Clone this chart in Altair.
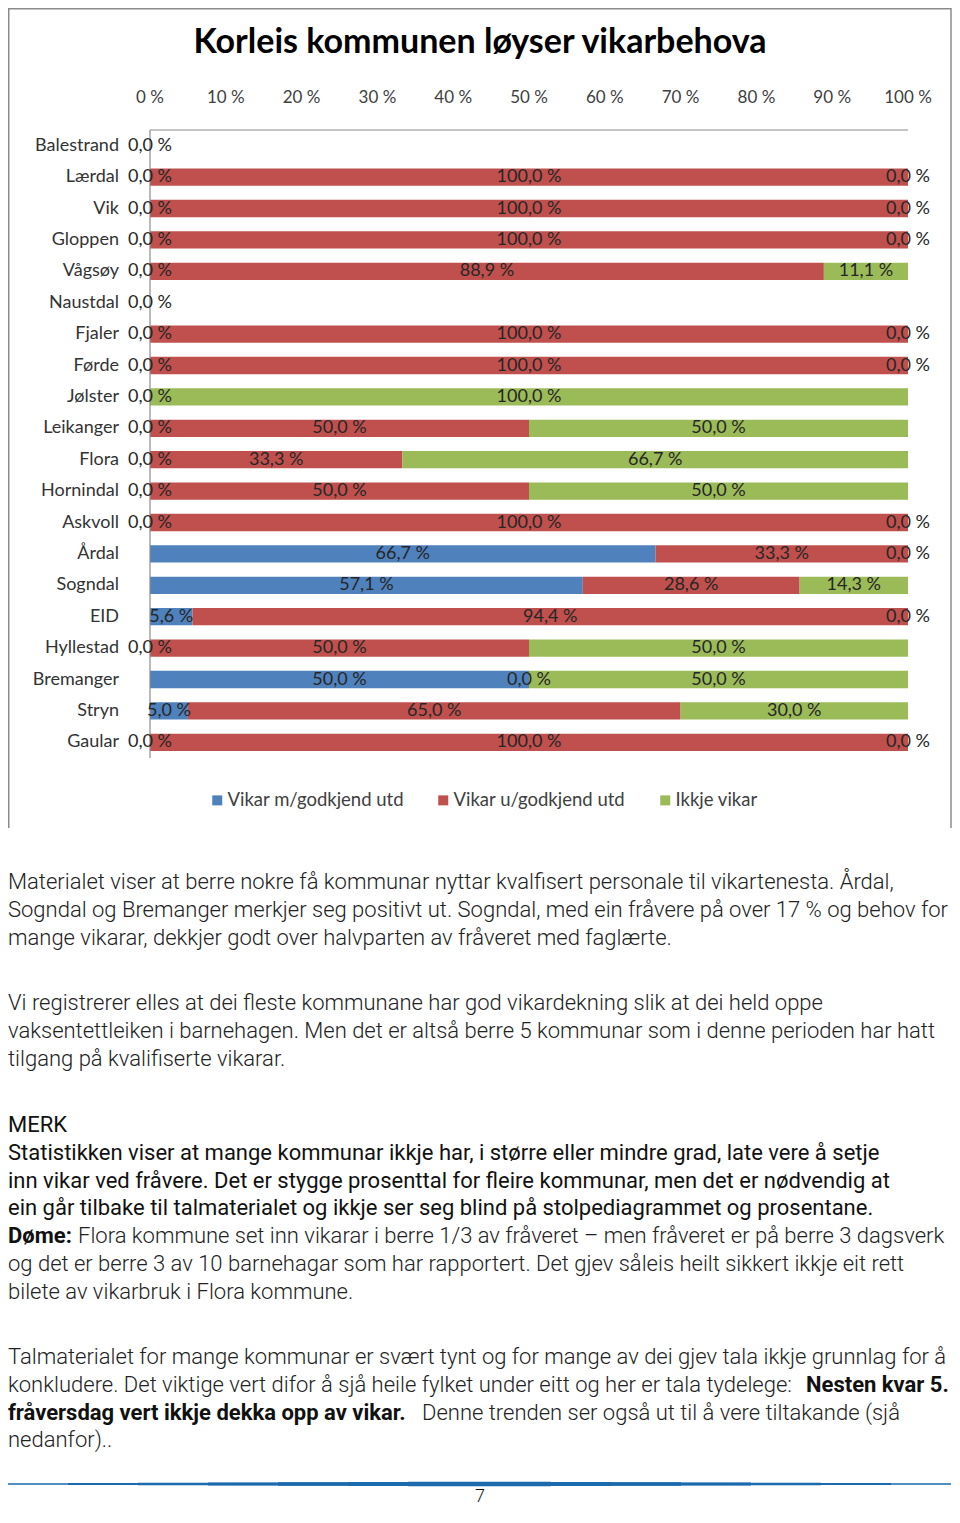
import altair as alt
import pandas as pd

# ---------------- data ----------------
kommunar = ["Balestrand", "Lærdal", "Vik", "Gloppen", "Vågsøy", "Naustdal", "Fjaler",
            "Førde", "Jølster", "Leikanger", "Flora", "Hornindal", "Askvoll", "Årdal",
            "Sogndal", "EID", "Hyllestad", "Bremanger", "Stryn", "Gaular"]
serier = ["Vikar m/godkjend utd", "Vikar u/godkjend utd", "Ikkje vikar"]
med_utd = [0.0, 0.0, 0.0, 0.0, 0.0, 0.0, 0.0, 0.0, 0.0, 0.0, 0.0, 0.0, 0.0,
           66.7, 57.1, 5.6, 0.0, 50.0, 5.0, 0.0]
utan_utd = [None, 100.0, 100.0, 100.0, 88.9, None, 100.0, 100.0, None, 50.0, 33.3,
            50.0, 100.0, 33.3, 28.6, 94.4, 50.0, 0.0, 65.0, 100.0]
ikkje_vikar = [None, 0.0, 0.0, 0.0, 11.1, None, 0.0, 0.0, 100.0, 50.0, 66.7,
               50.0, 0.0, 0.0, 14.3, 0.0, 50.0, 50.0, 30.0, 0.0]
tick_verdiar = [0, 10, 20, 30, 40, 50, 60, 70, 80, 90, 100]

tittel = "Korleis kommunen løyser vikarbehova"

avsnitt_1 = [
    "Materialet viser at berre nokre få kommunar nyttar kvalfisert personale til vikartenesta. Årdal,",
    "Sogndal og Bremanger merkjer seg positivt ut. Sogndal, med ein fråvere på over 17 %  og behov for",
    "mange vikarar, dekkjer godt over halvparten av fråveret med faglærte.",
]
avsnitt_2 = [
    "Vi registrerer elles at dei fleste kommunane har god vikardekning slik at dei held oppe",
    "vaksentettleiken i barnehagen. Men det er altså berre 5 kommunar som i denne perioden har hatt",
    "tilgang på kvalifiserte vikarar.",
]
merk_tekst = [
    "MERK",
    "Statistikken viser at mange kommunar ikkje har, i større eller mindre grad, late vere å setje",
    "inn vikar ved fråvere. Det er stygge prosenttal for fleire kommunar, men det er nødvendig at",
    "ein går tilbake til talmaterialet og ikkje ser seg blind på stolpediagrammet og prosentane.",
]
dome_fet = "Døme:"
dome_tekst = [
    "Flora kommune set inn vikarar i berre 1/3 av fråveret – men fråveret er på berre 3 dagsverk",
]
dome_vidare = [
    "og det er berre 3 av 10 barnehagar som har rapportert. Det gjev såleis heilt sikkert ikkje eit rett",
    "bilete av vikarbruk i Flora kommune.",
]
avsnitt_4 = [
    "Talmaterialet for mange kommunar er svært tynt og for mange av dei gjev tala ikkje grunnlag for å",
    "konkludere. Det viktige vert difor å sjå heile fylket under eitt og her er tala tydelege:",
]
avsnitt_4_fet_a = "Nesten kvar 5."
avsnitt_4_fet_b = "fråversdag vert ikkje dekka opp av vikar."
avsnitt_4_rest = [
    "Denne trenden ser også ut til å vere tiltakande (sjå",
]
avsnitt_4_slutt = ["nedanfor).."]
sidetal = "7"

farger = ["#4F81BD", "#C0504D", "#9BBB59"]

# ---------------- tables ----------------
rows = []
for i, k in enumerate(kommunar):
    for j, (s, vals) in enumerate(zip(serier, [med_utd, utan_utd, ikkje_vikar])):
        v = vals[i]
        if v is not None:
            rows.append({"kommune": k, "serie": s, "rekkjefolgje": j, "verdi": v})
df = pd.DataFrame(rows)

W, H = 944, 1499
LABEL_FONT = "Lato"
BODY_FONT = "Roboto, sans-serif"
BODY_SIZE = 22

xscale = alt.Scale(domain=[0, 100], range=[142, 900])
yscale = alt.Scale(domain=kommunar, range=[122, 750], paddingInner=0.45, paddingOuter=0.225)

base = alt.Chart(df).transform_stack(
    stack="verdi", groupby=["kommune"], as_=["v0", "v1"],
    sort=[alt.SortField("rekkjefolgje", order="ascending")]
).transform_calculate(
    midt="(datum.v0 + datum.v1) / 2",
    etikett="replace(format(datum.verdi, '.1f'), '.', ',') + ' %'"
)

bars = base.mark_bar().encode(
    x=alt.X("v0:Q", scale=xscale, axis=None),
    x2="v1:Q",
    y=alt.Y("kommune:N", scale=yscale, axis=None),
    color=alt.Color("serie:N", scale=alt.Scale(domain=serier, range=farger),
                    legend=alt.Legend(orient="none", direction="horizontal",
                                      legendX=200, legendY=783, title=None,
                                      symbolType="square", symbolSize=100,
                                      symbolStrokeWidth=0, labelFont=LABEL_FONT,
                                      labelFontSize=18.5, labelColor="#404040",
                                      labelOffset=1, columnPadding=30,
                                      labelLimit=400)),
)

labels = base.mark_text(font=LABEL_FONT, fontSize=18, color="#262626").encode(
    x=alt.X("midt:Q", scale=xscale, axis=None),
    y=alt.Y("kommune:N", scale=yscale, axis=None),
    text="etikett:N",
)

ticks = alt.Chart(pd.DataFrame({"tick": tick_verdiar})).transform_calculate(
    lab="datum.tick + ' %'"
).mark_text(font=LABEL_FONT, fontSize=17, color="#404040").encode(
    x=alt.X("tick:Q", scale=xscale, axis=None),
    y=alt.value(90),
    text="lab:N",
)

cats = alt.Chart(pd.DataFrame({"kommune": kommunar})).mark_text(
    font=LABEL_FONT, fontSize=18, color="#333333", align="right"
).encode(
    x=alt.value(111),
    y=alt.Y("kommune:N", scale=yscale, axis=None),
    text="kommune:N",
)

akse_df = pd.DataFrame({"a": [0], "b": [100]})
top_line = alt.Chart(akse_df).mark_rule(color="#8c8c8c", strokeWidth=1.2).encode(
    x=alt.X("a:Q", scale=xscale, axis=None), x2="b:Q", y=alt.value(122))
left_line = alt.Chart(akse_df).mark_rule(color="#8c8c8c", strokeWidth=1.2).encode(
    x=alt.X("a:Q", scale=xscale, axis=None), y=alt.value(122), y2=alt.value(750))

one = pd.DataFrame({"d": [0]})
frame_l = alt.Chart(one).mark_rule(color="#8c8c8c", strokeWidth=1.5).encode(
    x=alt.value(0.75), y=alt.value(0), y2=alt.value(820))
frame_t = alt.Chart(one).mark_rule(color="#8c8c8c", strokeWidth=1.5).encode(
    x=alt.value(0), x2=alt.value(943), y=alt.value(0.75))
frame_r = alt.Chart(one).mark_rule(color="#8c8c8c", strokeWidth=1.5).encode(
    x=alt.value(943), y=alt.value(0), y2=alt.value(820))

title = alt.Chart(one).mark_text(font=LABEL_FONT, fontSize=34, fontWeight="bold",
                                  color="#000000", align="center").encode(
    x=alt.value(472), y=alt.value(35), text=alt.value(tittel))

LH = 27.8


def tekst(lines, x, y, weight=300, color="#222222"):
    return alt.Chart(one).mark_text(
        font=BODY_FONT, fontSize=BODY_SIZE, fontWeight=weight, color=color,
        align="left", baseline="alphabetic", lineHeight=LH
    ).encode(x=alt.value(x), y=alt.value(y), text=alt.value(lines))


body = [
    tekst(avsnitt_1, 0, 881),
    tekst(avsnitt_2, 0, 1002),
    tekst(merk_tekst, 0, 1124, weight="normal", color="#111111"),
    tekst([dome_fet], 0, 1124 + 4 * LH, weight="bold", color="#111111"),
    tekst(dome_tekst, 70, 1124 + 4 * LH),
    tekst(dome_vidare, 0, 1124 + 5 * LH),
    tekst(avsnitt_4, 0, 1356),
    tekst([avsnitt_4_fet_a], 798, 1356 + LH, weight="bold", color="#111111"),
    tekst([avsnitt_4_fet_b], 0, 1356 + 2 * LH, weight="bold", color="#111111"),
    tekst(avsnitt_4_rest, 414, 1356 + 2 * LH),
    tekst(avsnitt_4_slutt, 0, 1356 + 3 * LH),
]

blue = "#1B6AAE"
deco = []
steps = [(0, 943, 1.4), (60, 883, 1.9), (130, 813, 2.4), (200, 743, 2.9),
         (270, 673, 3.4), (340, 603, 3.9), (400, 543, 4.6)]
for x1, x2, sw in steps:
    deco.append(alt.Chart(one).mark_rule(color=blue, strokeWidth=sw, strokeCap="butt").encode(
        x=alt.value(x1), x2=alt.value(x2), y=alt.value(1476)))

page_no = alt.Chart(one).mark_text(font=BODY_FONT, fontSize=18, color="#111111",
                                    fontWeight=300, align="center",
                                    baseline="alphabetic").encode(
    x=alt.value(472), y=alt.value(1494), text=alt.value(sidetal))

chart = alt.layer(
    frame_l, frame_t, frame_r, title, ticks, top_line, bars, left_line, labels, cats,
    *body, *deco, page_no
).properties(
    width=W, height=H, autosize=alt.AutoSizeParams(type="none"), padding=0
).configure_view(stroke=None)

chart.save("out.html", embed_options={"renderer": "svg", "actions": False})
